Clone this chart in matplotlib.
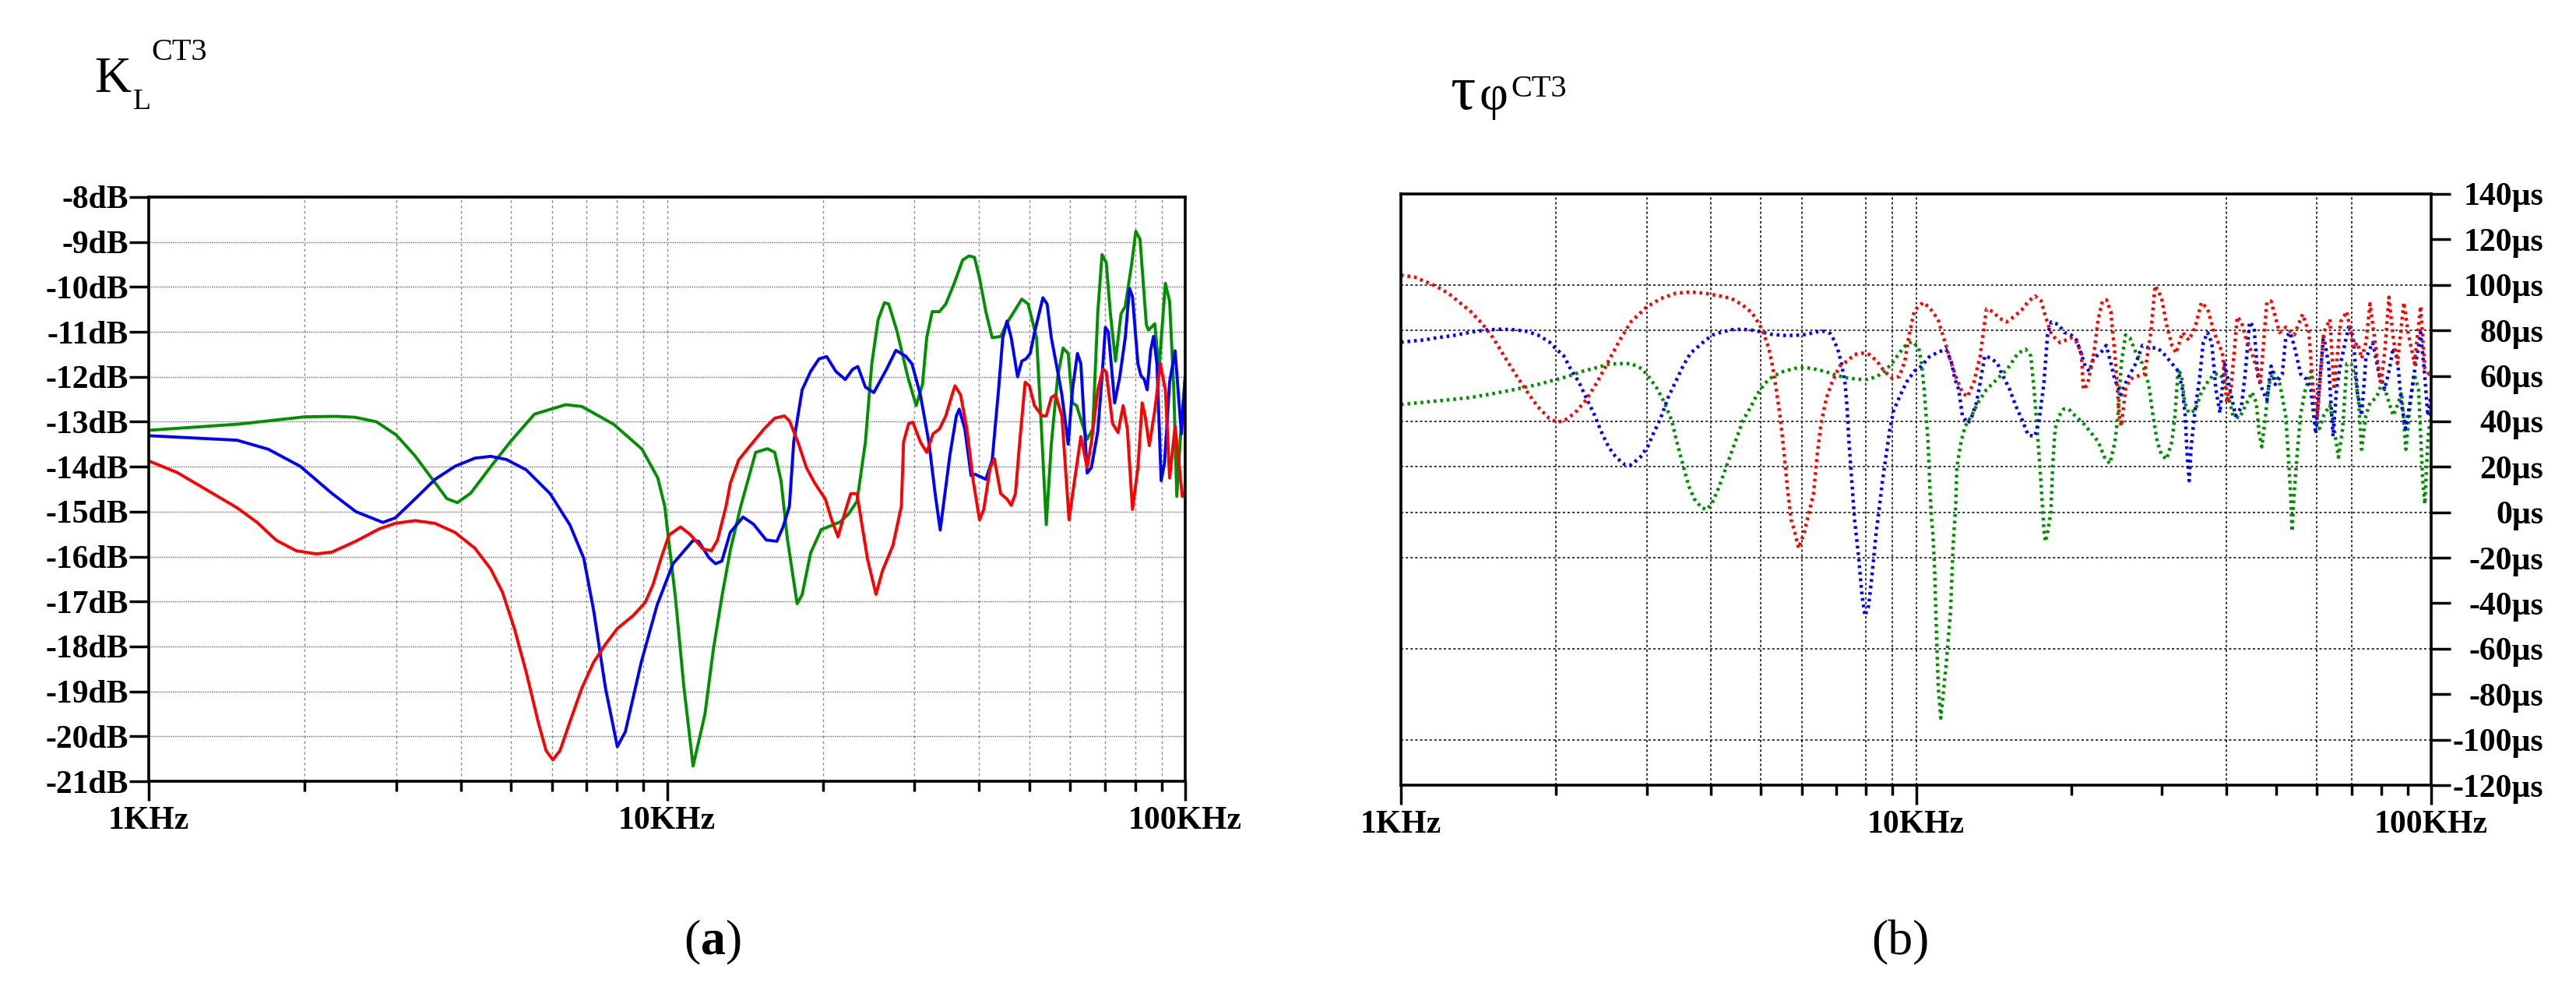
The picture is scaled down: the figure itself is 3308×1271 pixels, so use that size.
import numpy as np
import matplotlib
matplotlib.use("Agg")
import matplotlib.pyplot as plt
from matplotlib.ticker import FixedLocator, NullFormatter

plt.rcParams['font.family'] = ['Liberation Serif', 'DejaVu Serif']
plt.rcParams['mathtext.fontset'] = 'custom'
plt.rcParams['mathtext.rm'] = 'Liberation Serif'
plt.rcParams['mathtext.bf'] = 'Liberation Serif:bold'

# ---------------- data (a): K_L in dB, frequency in kHz ----------------
kl_green_f = [1.0, 1.5, 2.0, 2.3, 2.5, 2.75, 3.0, 3.26, 3.57, 3.76, 3.94, 4.18, 4.57, 4.99, 5.55, 6.38,
              6.85, 7.9, 8.95, 9.6, 9.9, 10.38, 10.78, 11.23, 11.84, 12.29, 12.76, 13.25, 13.88, 14.83,
              15.63, 16.14, 16.6, 17.07, 17.83, 18.23, 18.93, 19.84, 21.59, 22.41, 23.26, 24.15, 24.84,
              25.55, 26.28, 26.78, 27.81, 29.15, 30.26, 31.12, 31.71, 32.49, 33.55, 34.51, 35.83, 37.2,
              38.26, 39.2, 40.09, 41.24, 42.42, 44.05, 45.3, 47.03, 48.38, 49.76, 51.66, 52.64, 53.94,
              55.16, 56.74, 58.13, 59.45, 60.58, 61.73, 63.49, 64.69, 66.3, 67.82, 69.1, 70.41, 71.73,
              73.37, 75.18, 76.61, 78.8, 80.29, 81.81, 84.14, 84.93, 87.35, 89.02, 91.56, 93.3, 95.06,
              96.32, 98.33, 100.0]
kl_green_db = [-13.19, -13.05, -12.89, -12.88, -12.9, -13.0, -13.29, -13.75, -14.36, -14.71, -14.8, -14.59,
               -14.0, -13.44, -12.83, -12.62, -12.66, -13.06, -13.61, -14.25, -14.88, -16.9, -18.9, -20.66,
               -19.5, -18.06, -16.9, -15.86, -14.88, -13.68, -13.6, -13.68, -14.31, -15.6, -17.05, -16.85,
               -15.92, -15.4, -15.23, -15.05, -14.77, -13.45, -11.71, -10.73, -10.35, -10.38, -11.0, -12.0,
               -12.64, -12.17, -11.13, -10.55, -10.55, -10.38, -9.92, -9.4, -9.31, -9.34, -9.8, -10.55,
               -11.13, -11.1, -10.8, -10.5, -10.27, -10.38, -11.13, -12.87, -15.29, -13.5, -12.0, -11.36,
               -11.48, -12.58, -12.64, -13.1, -13.39, -13.16, -10.55, -9.28, -9.46, -10.6, -11.65, -10.6,
               -10.43, -9.5, -8.76, -8.94, -10.84, -10.96, -10.82, -11.83, -9.92, -10.32, -12.29, -14.66,
               -13.0, -12.0]

kl_blue_f = [1.0, 1.48, 1.7, 1.96, 2.26, 2.51, 2.83, 2.99, 3.27, 3.57, 3.9, 4.26, 4.57, 4.9, 5.35, 5.95,
             6.5, 6.91, 7.22, 7.61, 8.02, 8.31, 8.92, 9.57, 10.27, 11.23, 11.51, 12.06, 12.41, 12.76, 13.25,
             14.02, 14.69, 15.54, 16.29, 16.75, 17.23, 17.56, 18.23, 18.93, 19.65, 20.33, 21.18, 22.08,
             22.83, 23.35, 24.15, 25.07, 26.53, 27.65, 28.88, 29.7, 30.83, 32.01, 32.92, 33.67, 35.16,
             36.17, 36.64, 37.56, 38.62, 39.35, 41.24, 42.42, 43.63, 44.46, 45.3, 46.16, 47.48, 48.38,
             49.3, 50.22, 51.18, 53.14, 54.14, 55.16, 56.74, 57.81, 59.45, 60.58, 61.96, 62.9, 64.69,
             65.92, 67.82, 69.1, 70.14, 71.07, 73.09, 74.76, 76.61, 78.06, 79.1, 81.05, 82.12, 83.37,
             84.46, 85.73, 86.87, 88.19, 89.86, 91.23, 93.3, 95.6, 98.33, 100.0]
kl_blue_db = [-13.31, -13.41, -13.61, -13.99, -14.6, -15.0, -15.24, -15.14, -14.71, -14.28, -13.99, -13.81,
              -13.77, -13.84, -14.07, -14.6, -15.3, -16.04, -17.2, -18.93, -20.23, -19.9, -18.35, -17.08,
              -16.16, -15.64, -15.66, -16.03, -16.16, -16.1, -15.46, -15.12, -15.28, -15.63, -15.66, -15.34,
              -14.88, -13.45, -12.29, -11.88, -11.6, -11.55, -11.88, -12.06, -11.83, -11.77, -12.23, -12.35,
              -11.83, -11.41, -11.54, -11.71, -12.4, -13.45, -14.6, -15.41, -13.73, -12.87, -12.72, -13.16,
              -14.2, -14.17, -14.28, -13.85, -12.29, -11.13, -10.76, -11.13, -12.0, -11.65, -11.6, -11.48,
              -11.02, -10.24, -10.38, -11.13, -11.88, -12.4, -13.5, -12.29, -11.48, -11.71, -14.14, -14.02,
              -13.21, -12.0, -10.9, -11.0, -12.58, -12.0, -11.13, -10.03, -10.21, -11.71, -11.97, -12.06,
              -12.29, -11.42, -11.1, -11.71, -14.31, -13.91, -12.12, -11.42, -13.27, -12.0]

kl_red_f = [1.0, 1.135, 1.24, 1.354, 1.479, 1.615, 1.764, 1.926, 2.103, 2.257, 2.508, 2.788, 2.991, 3.267,
            3.567, 3.896, 4.256, 4.566, 4.814, 5.076, 5.352, 5.642, 5.845, 6.021, 6.216, 6.495, 6.848,
            7.219, 7.61, 8.023, 8.61, 9.078, 9.401, 9.739, 10.09, 10.62, 11.09, 11.73, 12.18, 12.52, 13.0,
            13.25, 13.75, 14.55, 15.39, 16.14, 16.85, 17.23, 17.89, 18.58, 19.29, 20.21, 20.78, 21.38,
            21.99, 22.62, 23.26, 23.71, 24.38, 25.31, 26.04, 27.29, 28.33, 28.61, 29.26, 29.81, 30.83,
            31.71, 32.61, 33.55, 34.51, 35.49, 35.96, 36.86, 37.9, 38.98, 40.09, 40.86, 42.03, 42.82,
            44.05, 45.3, 46.16, 47.03, 47.93, 49.11, 50.04, 51.18, 52.94, 53.94, 55.16, 56.21, 57.81,
            59.68, 61.15, 62.9, 64.69, 65.92, 67.82, 69.36, 70.41, 72.41, 74.2, 75.89, 77.33, 79.1, 81.05,
            82.59, 83.68, 85.25, 87.35, 89.53, 91.56, 93.3, 95.6, 98.7, 100.0]
kl_red_db = [-13.87, -14.13, -14.39, -14.65, -14.91, -15.23, -15.64, -15.87, -15.94, -15.9, -15.66, -15.38,
             -15.26, -15.2, -15.26, -15.46, -15.81, -16.27, -16.79, -17.6, -18.58, -19.68, -20.32, -20.52,
             -20.32, -19.68, -18.93, -18.35, -17.95, -17.6, -17.31, -17.02, -16.62, -16.04, -15.52, -15.34,
             -15.51, -15.83, -15.87, -15.63, -14.88, -14.37, -13.85, -13.5, -13.16, -12.92, -12.87, -12.98,
             -13.45, -14.02, -14.37, -14.72, -15.18, -15.56, -15.06, -14.6, -14.6, -15.2, -16.06, -16.84,
             -16.32, -15.75, -14.88, -13.45, -13.04, -13.01, -13.45, -13.68, -13.27, -13.16, -12.87, -12.4,
             -12.2, -12.4, -13.16, -14.31, -15.18, -14.95, -14.02, -13.82, -14.6, -14.72, -14.86, -14.6,
             -13.45, -12.12, -12.2, -12.64, -12.87, -12.87, -12.46, -12.4, -12.87, -15.18, -14.31, -13.33,
             -14.02, -13.45, -12.29, -11.83, -11.89, -13.04, -13.24, -12.64, -13.16, -14.95, -14.02, -12.58,
             -12.87, -13.53, -12.75, -11.71, -12.29, -14.25, -13.1, -14.66, -14.55]

# ---------------- data (b): tau_phi in us, frequency in kHz ----------------
tau_red_f = [1.0, 1.064, 1.118, 1.175, 1.236, 1.299, 1.366, 1.436, 1.509, 1.586, 1.668, 1.753, 1.843, 1.938,
             2.004, 2.071, 2.177, 2.288, 2.406, 2.529, 2.659, 2.795, 2.988, 3.193, 3.413, 3.649, 3.901, 4.17,
             4.384, 4.609, 4.804, 4.967, 5.05, 5.178, 5.265, 5.354, 5.444, 5.535, 5.628, 5.721, 5.818, 5.916,
             6.066, 6.197, 6.324, 6.43, 6.539, 6.704, 6.874, 7.106, 7.347, 7.597, 7.853, 8.12, 8.395, 8.679,
             8.974, 9.278, 9.513, 9.672, 9.917, 10.0, 10.32, 10.62, 11.03, 11.35, 11.67, 12.0, 12.3, 12.58,
             12.95, 13.32, 13.7, 14.09, 14.5, 14.97, 15.48, 16.02, 16.54, 17.02, 17.5, 17.84, 18.34, 19.05,
             19.97, 20.54, 20.93, 21.13, 21.53, 22.15, 22.57, 23.0, 23.44, 23.88, 24.34, 24.8, 25.03, 25.51,
             26.0, 26.74, 27.77, 28.57, 29.11, 29.95, 30.63, 31.39, 31.99, 32.9, 33.85, 34.82, 35.81, 36.84,
             37.89, 39.35, 40.1, 40.86, 42.03, 42.83, 43.65, 44.9, 46.63, 47.97, 48.87, 50.27, 50.75, 52.2,
             54.2, 56.28, 57.9, 59.0, 60.13, 61.85, 63.6, 64.8, 66.7, 68.6, 70.6, 71.9, 73.3, 74.7, 76.1,
             78.3, 79.8, 81.3, 82.8, 84.4, 86.0, 88.5, 90.2, 92.8, 95.4, 97.2, 99.1, 100.0]
tau_red_us = [104.3, 103.4, 101.4, 99.2, 96.3, 92.3, 88.3, 83.1, 76.8, 68.8, 60.8, 53.4, 46.5, 41.4, 39.7,
              40.2, 43.7, 49.4, 57.4, 66.5, 75.7, 83.7, 90.0, 94.0, 96.3, 96.9, 96.3, 95.1, 94.0, 91.1, 87.7,
              82.6, 79.1, 72.3, 64.3, 54.0, 42.5, 27.6, 10.5, -3.2, -8.9, -15.8, -8.9, 0.0, 8.2, 25.4, 39.1,
              50.5, 57.4, 64.3, 66.5, 69.4, 70.0, 69.4, 66.5, 62.0, 59.1, 59.7, 66.5, 76.8, 88.3, 89.4, 92.3,
              90.0, 84.9, 75.7, 66.5, 58.5, 52.7, 50.8, 57.2, 68.8, 89.4, 88.3, 85.4, 83.7, 86.0, 88.9, 92.9,
              95.1, 92.9, 86.0, 78.0, 74.6, 76.8, 74.6, 70.0, 54.0, 56.2, 70.0, 84.9, 92.9, 93.4, 88.3, 68.8,
              42.5, 37.9, 54.0, 58.5, 59.7, 60.8, 79.1, 99.7, 94.6, 82.6, 73.4, 70.0, 79.1, 75.7, 81.4, 92.3,
              89.4, 79.1, 70.0, 48.2, 54.0, 86.0, 83.7, 76.8, 70.0, 57.4, 92.3, 92.9, 82.6, 79.1, 81.4, 78.0,
              87.1, 79.1, 54.0, 42.5, 79.1, 84.9, 54.0, 83.7, 88.3, 72.3, 74.6, 67.7, 74.6, 91.7, 70.0, 56.2,
              71.1, 94.6, 76.8, 65.4, 92.3, 79.1, 65.4, 90.6, 63.1, 60.8, 61.5]

tau_blue_f = [1.0, 1.118, 1.175, 1.256, 1.321, 1.4, 1.484, 1.561, 1.654, 1.753, 1.843, 1.938, 2.004, 2.071,
              2.141, 2.214, 2.288, 2.366, 2.446, 2.529, 2.615, 2.726, 2.795, 2.914, 3.013, 3.089, 3.193, 3.302,
              3.413, 3.529, 3.649, 3.773, 3.901, 4.033, 4.17, 4.384, 4.609, 4.844, 5.05, 5.265, 5.535, 5.818,
              6.116, 6.43, 6.648, 6.817, 6.931, 7.047, 7.166, 7.286, 7.347, 7.409, 7.471, 7.534, 7.597, 7.724,
              7.853, 7.959, 8.092, 8.228, 8.367, 8.465, 8.608, 8.752, 8.899, 9.049, 9.278, 9.592, 9.917, 10.25,
              10.6, 11.05, 11.43, 11.7, 11.9, 12.1, 12.3, 12.6, 12.8, 13.1, 13.3, 13.6, 14.0, 14.4, 14.6, 15.2,
              15.6, 16.1, 16.5, 17.0, 17.3, 17.7, 18.0, 18.3, 18.9, 19.4, 20.0, 20.5, 20.9, 21.3, 21.7, 22.1,
              22.8, 23.4, 23.9, 24.3, 25.0, 25.7, 26.7, 27.5, 28.3, 29.4, 30.2, 31.4, 32.3, 32.9, 33.3, 33.6,
              33.9, 34.2, 34.8, 35.5, 36.1, 36.8, 37.5, 38.2, 38.9, 39.7, 40.4, 41.7, 42.8, 43.6, 44.4, 45.3,
              46.1, 47.0, 48.0, 48.9, 49.8, 51.4, 52.2, 53.2, 54.2, 55.8, 57.3, 58.4, 59.7, 60.6, 61.8, 63.2,
              64.5, 65.5, 66.7, 69.3, 70.6, 71.9, 73.3, 74.7, 77.0, 79.4, 81.2, 82.8, 84.4, 86.0, 87.5, 89.2,
              90.8, 92.5, 95.4, 97.2, 98.5, 100.0]
tau_blue_us = [74.8, 75.9, 76.8, 77.6, 78.6, 79.6, 80.3, 80.5, 80.3, 79.6, 78.0, 75.1, 71.7, 68.8, 62.5, 57.4,
               50.5, 43.7, 35.7, 28.8, 24.2, 20.8, 20.8, 24.2, 28.8, 34.5, 41.4, 50.5, 57.4, 64.3, 70.0, 72.8,
               75.7, 78.0, 79.1, 80.3, 80.5, 80.0, 79.1, 78.2, 77.8, 77.8, 78.2, 79.4, 79.6, 78.6, 75.7, 71.7,
               65.4, 56.2, 46.0, 31.1, 19.6, 8.2, -3.2, -18.1, -36.4, -45.5, -41.0, -26.1, -8.9, 0.0, 13.9,
               25.4, 36.8, 44.8, 50.5, 57.4, 62.0, 64.3, 68.3, 70.5, 71.7, 66.5, 58.5, 54.0, 42.5, 39.1, 41.4,
               48.2, 56.2, 68.8, 67.7, 65.4, 62.0, 54.0, 47.1, 40.2, 34.0, 33.4, 39.1, 56.2, 78.0, 83.7, 82.6,
               79.1, 78.0, 75.7, 70.0, 64.3, 62.0, 67.7, 70.0, 73.4, 65.4, 58.5, 51.7, 58.5, 65.4, 73.4, 72.3,
               72.3, 70.0, 65.4, 62.0, 54.0, 42.5, 25.4, 13.9, 28.8, 44.8, 58.5, 74.6, 79.1, 74.6, 54.0, 43.7,
               65.4, 57.4, 42.5, 46.0, 62.0, 83.7, 81.4, 59.7, 54.0, 49.4, 64.3, 56.2, 60.8, 76.8, 79.1, 73.4,
               60.8, 58.5, 54.0, 34.5, 54.0, 78.0, 65.4, 33.4, 54.0, 65.4, 82.6, 76.8, 52.8, 42.5, 67.7, 74.6,
               59.7, 54.0, 62.0, 72.3, 67.7, 48.2, 36.8, 47.1, 59.7, 79.1, 59.7, 42.5, 51.7]

tau_green_f = [1.0, 1.156, 1.256, 1.366, 1.484, 1.613, 1.724, 1.843, 1.971, 2.106, 2.251, 2.406, 2.529, 2.659,
               2.795, 2.939, 3.038, 3.141, 3.247, 3.357, 3.442, 3.529, 3.619, 3.711, 3.836, 3.933, 4.033, 4.135,
               4.24, 4.384, 4.495, 4.609, 4.764, 4.926, 5.092, 5.265, 5.535, 5.818, 6.066, 6.324, 6.648, 6.99,
               7.347, 7.724, 8.051, 8.395, 8.679, 8.974, 9.278, 9.592, 9.835, 10.12, 10.25, 10.37, 10.46, 10.55,
               10.6, 10.65, 10.72, 10.78, 10.87, 10.96, 11.05, 11.17, 11.45, 11.67, 11.8, 11.94, 12.0, 12.23,
               12.46, 12.82, 13.19, 13.7, 14.36, 15.05, 15.78, 16.32, 16.7, 16.95, 17.18, 17.4, 17.6, 17.73,
               17.83, 18.0, 18.27, 18.41, 18.62, 18.97, 19.34, 19.78, 20.35, 21.13, 21.74, 22.57, 23.22, 23.79,
               24.34, 24.66, 25.03, 25.51, 26.0, 26.74, 27.51, 28.29, 28.84, 29.39, 29.95, 30.63, 31.39, 31.81,
               32.29, 32.78, 33.22, 33.85, 34.82, 35.81, 36.84, 37.89, 38.98, 40.1, 41.24, 42.44, 43.65, 44.9,
               45.76, 46.37, 46.9, 47.52, 48.42, 49.34, 50.75, 52.2, 52.99, 53.49, 53.7, 54.2, 54.93, 55.76,
               56.81, 58.44, 59.56, 60.69, 61.85, 63.6, 64.82, 66.07, 67.33, 68.61, 69.91, 71.24, 72.32, 73.28,
               74.68, 76.1, 78.28, 80.52, 82.83, 84.41, 86.0, 87.63, 89.3, 91.0, 92.74, 94.51, 96.3, 97.21,
               98.52, 100.0]
tau_green_us = [47.4, 48.8, 49.6, 50.5, 51.9, 53.4, 54.8, 56.2, 58.0, 59.7, 62.0, 63.7, 65.1, 65.4, 65.4, 63.1,
                59.1, 54.5, 48.2, 40.2, 29.9, 20.8, 11.6, 5.9, 1.9, 1.3, 4.8, 10.5, 17.3, 26.5, 33.4, 40.2,
                45.9, 52.2, 56.8, 59.7, 62.0, 63.3, 63.7, 63.1, 62.0, 60.3, 59.1, 58.5, 58.5, 59.7, 62.0, 65.4,
                70.0, 74.0, 75.1, 72.3, 65.4, 54.0, 42.5, 31.1, 19.6, 8.2, -3.2, -8.9, -26.1, -54.7, -77.6,
                -90.5, -66.1, -43.2, -14.6, 2.5, 19.6, 31.1, 37.9, 42.5, 48.2, 54.0, 58.5, 63.1, 70.0, 71.7,
                68.8, 54.0, 36.8, 19.6, 2.5, -8.9, -12.9, -8.9, 0.0, 19.6, 36.8, 42.5, 45.4, 45.4, 42.5, 39.1,
                35.7, 31.1, 24.2, 21.4, 31.1, 42.5, 65.4, 78.0, 76.8, 70.0, 65.4, 56.2, 42.5, 31.1, 25.4, 23.3,
                31.1, 42.5, 63.1, 59.7, 48.2, 43.7, 44.8, 52.8, 57.4, 60.8, 60.8, 54.0, 42.5, 41.4, 47.1, 52.8,
                48.2, 34.5, 28.8, 39.1, 56.2, 62.0, 57.4, 42.5, 19.6, 2.5, -8.4, 8.2, 25.4, 42.5, 52.8, 62.0,
                42.5, 36.8, 42.5, 47.1, 36.8, 24.2, 36.8, 65.4, 65.4, 59.7, 48.2, 27.7, 42.5, 48.2, 50.5, 57.4,
                48.2, 42.5, 47.1, 52.8, 27.7, 47.1, 60.8, 54.0, 13.9, 3.6, 31.1, 47.1]

db_ticks = list(range(-21, -7))
tau_ticks = list(range(-120, 141, 20))
f_major = [1e3, 1e4, 1e5]
f_major_labels = ['1KHz', '10KHz', '100KHz']
f_minor = [m * d for d in (1e3, 1e4) for m in range(2, 10)]
# grid lines that are visible in panel (b)
grid_f_b = [2e3, 3e3, 4e3, 5e3, 6e3, 8e3, 9e3, 1e4, 4e4, 6e4, 7e4]
grid_tau_b = [100, 80, 40, 20, 0, -20, -60, -100]

RED, BLUE, GREEN = '#ff0000', '#0000ff', '#008f00'
W, H = 3308, 1271
fig = plt.figure(figsize=(W / 100, H / 100), dpi=100)

axA = fig.add_axes([191 / W, 1 - 1003 / H, (1522 - 191) / W, (1003 - 253) / H])
axB = fig.add_axes([1799 / W, 1 - 1008 / H, (3122 - 1799) / W, (1008 - 249) / H])

lab_font = dict(family='Liberation Serif', weight='bold', size=30)

for ax in (axA, axB):
    ax.set_xscale('log')
    ax.set_xlim(1e3, 1e5)
    ax.xaxis.set_major_locator(FixedLocator(f_major))
    ax.xaxis.set_minor_locator(FixedLocator(f_minor))
    ax.xaxis.set_minor_formatter(NullFormatter())
    ax.set_xticklabels(f_major_labels, fontdict=lab_font)
    ax.tick_params(axis='x', which='major', direction='out', length=18, width=2.5, pad=5)
    ax.tick_params(axis='x', which='minor', direction='out', length=9, width=2.5)
    for s in ax.spines.values():
        s.set_linewidth(2.6)
        s.set_color('black')

# ---- panel (a)
axA.set_ylim(-21, -8)
axA.set_yticks(db_ticks)
axA.set_yticklabels([f"{v}dB" for v in db_ticks], fontdict=lab_font)
axA.tick_params(axis='y', direction='out', length=18, width=2.5, pad=1)
axA.grid(which='both', axis='x', color='0.55', linestyle=(0, (2.5, 2.5)), linewidth=1.0)
axA.grid(which='major', axis='y', color='0.4', linestyle=(0, (1, 1)), linewidth=1.0)
axA.set_axisbelow(True)

f_hz = lambda f: np.array(f) * 1e3
axA.plot(f_hz(kl_green_f), kl_green_db, color=GREEN, lw=2.8)
axA.plot(f_hz(kl_blue_f), kl_blue_db, color=BLUE, lw=2.8)
axA.plot(f_hz(kl_red_f), kl_red_db, color=RED, lw=2.8)

# ---- panel (b)
axB.set_ylim(-120, 140)
axB.yaxis.tick_right()
axB.set_yticks(tau_ticks)
axB.set_yticklabels([f"{v}µs" for v in tau_ticks], fontdict=lab_font, ha='right')
axB.tick_params(axis='y', direction='out', length=18, width=2.5, pad=86)
for g in grid_f_b:
    axB.axvline(g, color='black', lw=1.1, linestyle=(0, (2, 2)), zorder=1)
for g in grid_tau_b:
    axB.axhline(g, color='black', lw=1.1, linestyle=(0, (2, 2)), zorder=1)

dots = (0, (0.8, 1.1))
axB.plot(f_hz(tau_green_f), tau_green_us, color=GREEN, lw=3.2, linestyle=dots)
axB.plot(f_hz(tau_blue_f), tau_blue_us, color=BLUE, lw=3.2, linestyle=dots)
axB.plot(f_hz(tau_red_f), tau_red_us, color=RED, lw=3.2, linestyle=dots)

# ---- headings and captions
def ftxt(x, y, s, **kw):
    fig.text(x / W, 1 - y / H, s, va='baseline', **kw)

ftxt(121, 118, 'K', size=47)
ftxt(171, 140, 'L', size=27)
ftxt(194, 77, 'CT3', size=29)

ftxt(1862, 140, 'τ', size=58)
ftxt(1900, 140, 'φ', size=46)
ftxt(1940, 124, 'CT3', size=29)

ftxt(915, 1225, r'($\mathbf{a}$)', size=46, ha='center')
ftxt(2440, 1225, '(b)', size=46, ha='center')

fig.savefig('out.png', dpi=100)
